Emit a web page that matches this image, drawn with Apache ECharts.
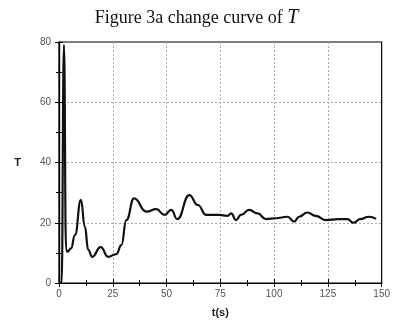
<!DOCTYPE html>
<html>
<head>
<meta charset="utf-8">
<script src="https://cdn.jsdelivr.net/npm/echarts@6/dist/echarts.min.js"></script>
<style>
  html, body { margin: 0; padding: 0; background: #fff; }
  #chart { width: 393px; height: 327px; }
</style>
</head>
<body>
<div id="chart"></div>
<script>
// time (s) and T values
const times = [0, 1.2, 2.3, 3.3, 4.0, 5.6, 7.4, 10.2, 12, 13.6, 15.4, 19.4, 22.8, 26.7, 29, 31.3, 34.9, 40.6,
  45.2, 49.1, 52.2, 55, 60.6, 64.5, 68.5, 74.5, 78.4, 80, 82.3, 84.6, 88.4, 92.3, 96.2, 100.8,
  106.2, 109.3, 111.6, 115.4, 119.3, 123.9, 130, 134, 137, 140, 144, 147.4];
const tValues = [0, 0, 79, 11, 10.4, 11.5, 15.9, 27.6, 18.7, 11, 8.7, 11.9, 8.7, 9.6, 12.6, 20.9, 28.1, 23.7,
  24.5, 22.6, 24.3, 21.2, 29.2, 25.9, 22.6, 22.6, 22.3, 23.1, 20.9, 22.6, 24.3, 23.1, 21.2, 21.5,
  22.0, 20.4, 22.0, 23.4, 22.3, 20.9, 21.2, 21.2, 20.0, 21.2, 22.0, 21.3];
const xTicks = [0, 150, 25];
const yTicks = [0, 80, 20];

const chart = echarts.init(document.getElementById('chart'));
const labelColor = '#555';
const frame = { show: true, lineStyle: { color: '#000', width: 1.2 } };
const gridLine = { show: true, showMinLine: false, showMaxLine: false, lineStyle: { color: '#aaa', type: [2, 2], width: 1 } };
const ticks = { show: true, inside: true, length: 4, lineStyle: { color: '#000' } };
const minor = { show: true, splitNumber: 2, length: 3, lineStyle: { color: '#000' } };

chart.setOption({
  animation: false,
  title: {
    text: 'Figure 3a change curve of {i|T}',
    left: 'center',
    top: 3,
    textStyle: {
      fontFamily: 'Liberation Serif',
      fontWeight: 'normal',
      fontSize: 18,
      color: '#111',
      rich: { i: { fontFamily: 'Liberation Serif', fontStyle: 'italic', fontSize: 20, color: '#111' } }
    }
  },
  grid: { left: 59, right: 10, top: 42, bottom: 44, show: true, borderColor: '#000', borderWidth: 1.2 },
  xAxis: [
    {
      type: 'value', min: xTicks[0], max: xTicks[1], interval: xTicks[2],
      name: 't(s)', nameLocation: 'middle', nameGap: 24,
      nameTextStyle: { fontFamily: 'Liberation Sans', fontWeight: 'bold', fontSize: 11, color: '#222' },
      axisLine: frame, axisTick: ticks, minorTick: minor,
      axisLabel: { fontFamily: 'Liberation Sans', fontSize: 10, color: labelColor, margin: 6 },
      splitLine: gridLine
    },
    {
      type: 'value', position: 'top', min: xTicks[0], max: xTicks[1], interval: xTicks[2],
      axisLine: frame, axisTick: ticks, minorTick: minor,
      axisLabel: { show: false }, splitLine: { show: false }
    }
  ],
  yAxis: [
    {
      type: 'value', min: yTicks[0], max: yTicks[1], interval: yTicks[2],
      name: 'T', nameLocation: 'middle', nameGap: 38, nameRotate: 0,
      nameTextStyle: { fontFamily: 'Liberation Sans', fontWeight: 'bold', fontSize: 11, color: '#222' },
      axisLine: frame, axisTick: ticks, minorTick: minor,
      axisLabel: { fontFamily: 'Liberation Sans', fontSize: 10, color: labelColor, margin: 8 },
      splitLine: gridLine
    },
    {
      type: 'value', position: 'right', min: yTicks[0], max: yTicks[1], interval: yTicks[2],
      axisLine: frame, axisTick: ticks, minorTick: minor,
      axisLabel: { show: false }, splitLine: { show: false }
    }
  ],
  series: [
    {
      type: 'line',
      data: times.map((t, i) => [t, tValues[i]]),
      smooth: 0.5,
      smoothMonotone: 'x',
      showSymbol: false,
      lineStyle: { color: '#111', width: 2.2 }
    }
  ]
});
</script>
</body>
</html>
